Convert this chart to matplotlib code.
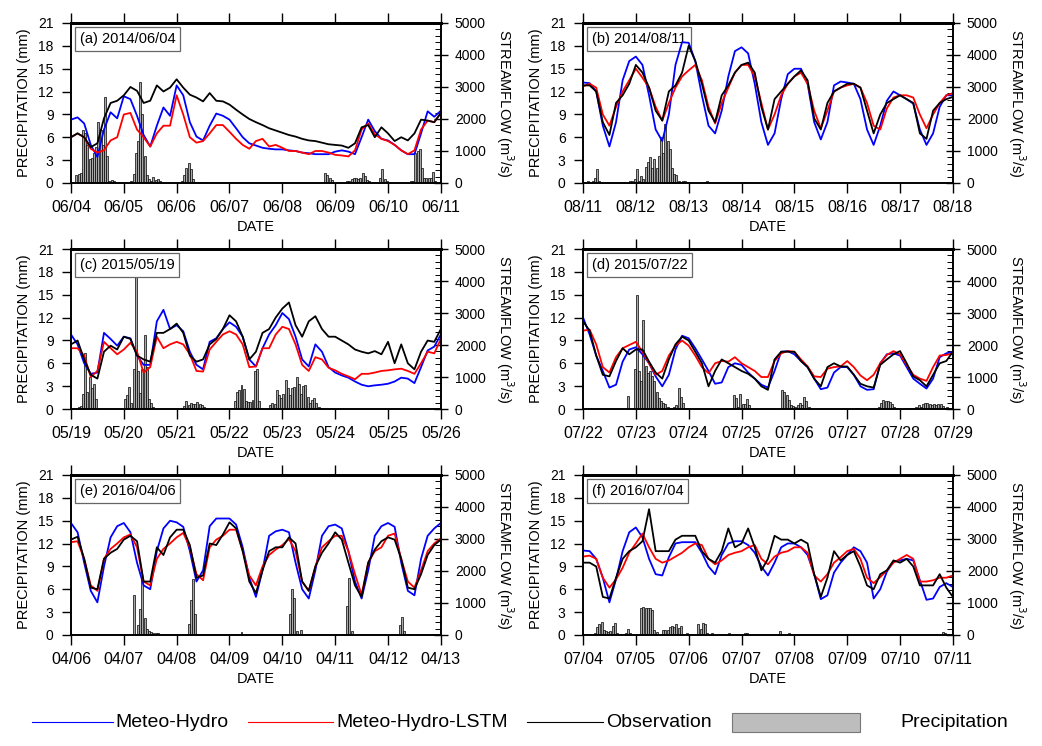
import numpy as np
import pandas as pd
import matplotlib
matplotlib.use("Agg")
import matplotlib.pyplot as plt
from matplotlib.ticker import MultipleLocator
from matplotlib.lines import Line2D
from matplotlib.patches import Rectangle

plt.rcParams['font.family'] = ['Liberation Sans', 'DejaVu Sans']

# streamflow read every 3 hours (hours since start of each event)
hours = np.arange(0, 169, 3)

# (a) 2014/06/04
a_hydro = [1980, 2050, 1860, 1190, 810, 1670, 2210, 2020, 2710, 2620,
           2100, 1500, 1140, 1790, 2360, 2100, 3050, 2740, 1900, 1450,
           1330, 1790, 2170, 2100, 1980, 1710, 1430, 1240, 1170, 1100,
           1070, 1050, 1050, 1020, 1000, 950, 930, 900, 900, 900,
           980, 1020, 980, 900, 1430, 1980, 1620, 1380, 1330, 1190,
           1020, 900, 900, 1550, 2240, 2070, 2260]
a_lstm = [1430, 1550, 1430, 1070, 950, 1020, 1330, 1430, 2140, 2190,
          1670, 1430, 1140, 1550, 1790, 1790, 2740, 2140, 1430, 1260,
          1310, 1550, 1810, 1810, 1600, 1380, 1190, 1070, 1310, 1380,
          1140, 1190, 1100, 1000, 1000, 950, 900, 1000, 1000, 950,
          880, 860, 830, 1020, 1670, 1860, 1520, 1380, 1310, 1190,
          1020, 900, 1020, 1670, 1950, 1900, 2190]
a_obs = [1430, 1550, 1430, 1120, 1240, 2020, 2500, 2570, 2740, 3000,
         2880, 2500, 2570, 3050, 2860, 2980, 3240, 2980, 2760, 2670,
         2550, 2810, 2570, 2550, 2450, 2290, 2140, 2000, 1900, 1810,
         1710, 1640, 1570, 1500, 1450, 1380, 1330, 1310, 1260, 1210,
         1190, 1170, 1100, 1240, 1740, 1810, 1430, 1740, 1550, 1310,
         1430, 1330, 1550, 1980, 1950, 1900, 2190]
a_rain_h = [2, 3, 4, 5, 6, 7, 8, 9, 10, 11, 12, 13, 14, 15, 16, 17, 18, 19,
            27, 28, 29, 30, 31, 32, 33, 34, 35, 36, 37, 38, 39, 40,
            50, 51, 52, 53, 54, 55, 56, 58, 60,
            115, 116, 117, 118,
            125, 126, 127, 128, 129, 130, 131, 132, 133, 134, 135, 136,
            140, 141, 142, 143,
            154, 155, 156, 157, 158, 159, 160, 161, 162, 163, 164, 165]
a_rain = [1.0, 1.2, 1.3, 7.0, 6.5, 5.0, 3.2, 3.3, 4.0, 4.7, 8.0, 7.0, 5.0, 11.3, 3.6, 0.3, 0.4, 0.3,
          0.2, 1.2, 4.0, 5.5, 13.2, 9.1, 3.5, 1.0, 0.5, 0.3, 0.8, 0.4, 0.5, 0.3,
          0.3, 1.0, 2.0, 2.6, 1.9, 0.5, 0.1, 0.1, 0.1,
          1.3, 1.0, 0.7, 0.4,
          0.3, 0.3, 0.5, 0.6, 0.7, 0.5, 0.6, 1.3, 0.9, 0.4, 0.2, 0.1,
          0.7, 1.9, 0.5, 0.2,
          0.2, 0.3, 4.0, 4.2, 4.4, 2.0, 0.7, 0.7, 0.7, 0.6, 1.4, 0.2]

# (b) 2014/08/11
b_hydro = [3140, 3120, 2860, 1790, 1140, 1900, 3210, 3810, 3950, 3690,
           2740, 1670, 1310, 2140, 3690, 4400, 4380, 3810, 2740, 1790,
           1550, 2260, 3330, 4120, 4240, 4050, 3100, 1900, 1190, 1550,
           2620, 3400, 3570, 3570, 3100, 1900, 1360, 1900, 3050, 3170,
           3140, 3100, 2620, 1670, 1190, 1790, 2570, 2860, 2740, 2620,
           2480, 1670, 1190, 1550, 2380, 2740, 2740]
b_lstm = [3020, 3100, 2980, 2140, 1790, 2380, 2860, 3210, 3570, 3290,
          2980, 2380, 1950, 2500, 2980, 3330, 3520, 3690, 3210, 2380,
          1860, 2500, 2980, 3450, 3690, 3690, 3330, 2500, 1670, 2140,
          2740, 3100, 3330, 3450, 3100, 2260, 1710, 2260, 2860, 2980,
          3050, 3100, 2980, 2500, 1790, 1670, 2330, 2670, 2740, 2740,
          2670, 2140, 1710, 2140, 2500, 2740, 2810]
b_obs = [3050, 3050, 2860, 1900, 1500, 2500, 2740, 3100, 3690, 3450,
         2980, 2260, 1950, 2860, 3050, 3450, 4290, 3810, 3100, 2260,
         1900, 2740, 3050, 3450, 3690, 3760, 3450, 2380, 1670, 2620,
         2860, 3100, 3330, 3520, 3210, 2020, 1670, 2500, 2860, 2980,
         3100, 3100, 2980, 2260, 1550, 2140, 2500, 2620, 2740, 2620,
         2500, 1550, 1380, 2260, 2500, 2620, 2690]
b_rain_h = [2, 4, 5, 6, 7,
            21, 22, 23, 24, 25, 26, 27, 28, 29, 30, 31, 32, 33, 34, 35, 36,
            37, 38, 39, 40, 41, 42, 43, 44, 45, 46, 47,
            55, 56, 57, 73, 74, 86, 90, 94, 117]
b_rain = [0.2, 0.3, 0.6, 1.9, 0.2,
          0.2, 0.3, 0.5, 1.8, 0.2, 0.9, 0.5, 2.1, 2.8, 3.4, 2.0, 3.2, 2.0, 3.5, 6.0, 4.0,
          7.8, 5.5, 4.5, 2.0, 1.2, 1.1, 0.2, 0.1, 0.2, 0.2, 0.1,
          0.1, 0.2, 0.1, 0.1, 0.1, 0.1, 0.1, 0.1, 0.1]

# (c) 2015/05/19
c_hydro = [2330, 2020, 1430, 1100, 1140, 2380, 2190, 1980, 2260, 2210,
           1670, 1380, 1380, 2740, 3100, 2500, 2620, 2430, 1790, 1380,
           1240, 2100, 2210, 2500, 2710, 2570, 2260, 1550, 1330, 1900,
           2330, 2620, 3000, 2810, 2260, 1550, 1330, 2020, 1790, 1310,
           1140, 1050, 980, 860, 760, 710, 740, 760, 790, 860,
           980, 950, 810, 1310, 1830, 1950, 2330]
c_lstm = [1900, 1900, 1670, 1000, 1190, 2100, 1900, 1710, 1860, 2070,
          1790, 1140, 1310, 2260, 1900, 2020, 2100, 2020, 1710, 1190,
          1170, 1860, 2100, 2330, 2430, 2330, 2020, 1310, 1330, 1900,
          1900, 2330, 2570, 2500, 2020, 1380, 1190, 1620, 1550, 1290,
          1210, 1100, 1020, 930, 1100, 1100, 1140, 1190, 1210, 1240,
          1260, 1190, 1100, 1430, 1790, 1740, 2190]
c_obs = [2020, 2140, 1550, 1070, 950, 1790, 1980, 1860, 2260, 2190,
         1670, 1550, 1480, 2380, 2380, 2500, 2670, 2380, 1670, 1480,
         1550, 2020, 2190, 2500, 2930, 2740, 2260, 1550, 1790, 2380,
         2500, 2860, 3140, 3330, 2620, 2260, 2740, 2900, 2500, 2260,
         2260, 2140, 2020, 1860, 1790, 1740, 1810, 1710, 2100, 1430,
         2020, 1430, 1240, 1790, 2140, 2100, 2500]
c_rain_h = [3, 4, 5, 6, 7, 8, 9, 10, 11,
            24, 25, 26, 27, 28, 29, 30, 31, 32, 33, 34, 35, 36, 37,
            50, 51, 52, 53, 54, 55, 56, 57, 58, 59, 60, 61,
            74, 75, 76, 77, 78, 79, 80, 81, 82, 83, 84, 85,
            90, 91, 92, 93, 94, 95, 96, 97, 98, 99, 100, 101, 102, 103,
            104, 105, 106, 107, 108, 109, 110, 111, 112, 113]
c_rain = [0.3, 0.4, 2.0, 7.3, 2.3, 4.2, 2.8, 3.3, 1.3,
          1.3, 1.8, 2.9, 0.8, 5.3, 17.3, 5.0, 2.1, 5.3, 9.7, 5.5, 1.3, 0.8, 0.3,
          0.2, 0.4, 1.0, 0.5, 0.8, 0.7, 0.6, 0.9, 0.7, 0.5, 0.3, 0.2,
          1.0, 2.2, 2.5, 3.1, 2.6, 1.0, 0.9, 0.9, 1.2, 5.0, 5.2, 1.0,
          0.5, 0.8, 0.7, 2.5, 1.8, 1.5, 2.0, 3.8, 2.8, 1.8, 2.8, 2.9, 4.2, 3.3,
          2.0, 3.0, 3.2, 1.6, 0.8, 1.2, 1.4, 0.8, 0.3, 0.1]

# (d) 2015/07/22
d_hydro = [2860, 2330, 1670, 1190, 670, 760, 1480, 1860, 1930, 1710,
           1430, 1020, 710, 1070, 1860, 2290, 2210, 1900, 1550, 1190,
           790, 830, 1310, 1430, 1380, 1140, 950, 760, 670, 1190,
           1790, 1810, 1710, 1500, 1310, 950, 620, 670, 1140, 1310,
           1310, 1070, 710, 600, 620, 1430, 1710, 1740, 1670, 1310,
           950, 790, 640, 950, 1620, 1740, 1790]
d_lstm = [2450, 2480, 2020, 1310, 1140, 1620, 1900, 2000, 2100, 1790,
          1430, 1070, 1190, 1670, 1980, 2140, 1980, 1670, 1310, 1120,
          1430, 1500, 1480, 1620, 1430, 1310, 1190, 1000, 1000, 1500,
          1740, 1810, 1790, 1550, 1330, 1020, 1000, 1260, 1310, 1330,
          1500, 1310, 1050, 900, 1070, 1430, 1690, 1810, 1710, 1380,
          1070, 950, 880, 1310, 1670, 1690, 1740]
d_obs = [2740, 2450, 1670, 1070, 1020, 1500, 1900, 1710, 1860, 1860,
         1480, 1140, 950, 1550, 2020, 2260, 2140, 1790, 1430, 710,
         1190, 1550, 1430, 1310, 1190, 1100, 950, 710, 600, 1550,
         1790, 1790, 1790, 1500, 1310, 950, 710, 1310, 1430, 1330,
         1330, 1070, 790, 710, 670, 1380, 1550, 1710, 1810, 1430,
         1020, 900, 710, 1070, 1430, 1500, 1790]
d_rain_h = [20,
            23, 24, 25, 26, 27, 28, 29, 30, 31, 32, 33, 34, 35, 36, 37, 38, 39,
            41, 42, 43, 44, 45, 46,
            68, 69, 70, 71, 72, 73, 74, 75,
            90, 91, 92, 93, 94, 95, 96, 97, 98, 99, 100, 101, 102,
            124, 125,
            134, 135, 136, 137, 138, 139, 140, 141, 142,
            147, 149, 150, 151, 152, 153, 154, 155, 156, 157, 158, 159, 160,
            161, 162, 163, 164, 165]
d_rain = [1.7,
          5.3, 15.0, 5.0, 3.7, 11.7, 5.6, 4.7, 5.0, 4.4, 3.7, 2.2, 1.5, 1.0, 0.8, 0.7, 0.3, 0.1,
          0.3, 0.5, 2.7, 1.6, 0.8, 0.2,
          1.9, 1.4, 0.3, 2.0, 0.6, 0.7, 1.3, 0.5,
          2.5, 2.3, 1.8, 1.2, 0.5, 0.4, 0.3, 0.5, 0.8, 0.5, 1.6, 1.0, 0.3,
          0.2, 0.1,
          0.3, 0.8, 1.2, 1.1, 1.0, 0.9, 0.7, 0.3, 0.2,
          0.1, 0.2, 0.2, 0.3, 0.5, 0.3, 0.7, 0.8, 0.8, 0.6, 0.5, 0.6, 0.5,
          0.7, 0.6, 0.4, 0.2, 0.3]

# (e) 2016/04/06
e_hydro = [3500, 3210, 2260, 1380, 1020, 2140, 3050, 3400, 3500, 3210,
           2260, 1550, 1430, 2620, 3330, 3570, 3520, 3380, 2620, 1670,
           2020, 3400, 3640, 3640, 3640, 3450, 2740, 1790, 1190, 2020,
           3100, 3240, 3290, 3210, 2260, 1430, 1140, 2020, 3100, 3400,
           3450, 3330, 2620, 1670, 1140, 2020, 3100, 3400, 3500, 3380,
           2260, 1380, 1240, 2380, 3100, 3330, 3500]
e_lstm = [2900, 2930, 2380, 1550, 1380, 2380, 2690, 2860, 3050, 3140,
          2740, 1670, 1550, 2380, 2690, 2860, 3050, 3190, 2740, 1900,
          1710, 2740, 2980, 3100, 3290, 3290, 2620, 1860, 1550, 2140,
          2500, 2670, 2810, 3000, 2620, 1670, 1380, 2140, 2740, 2930,
          3100, 3100, 2620, 1900, 1260, 2260, 2620, 2740, 3100, 3170,
          2380, 1670, 1480, 2020, 2620, 2860, 3020]
e_obs = [2980, 3070, 2380, 1480, 1430, 2380, 2570, 2690, 2980, 3100,
         2930, 1670, 1670, 2740, 2500, 3050, 3290, 3290, 2810, 1790,
         1860, 2860, 2810, 3140, 3520, 3330, 2620, 1670, 1310, 2020,
         2620, 2740, 2740, 3050, 2860, 1670, 1380, 2140, 2570, 2860,
         3210, 2980, 2260, 1550, 1190, 2260, 2670, 2930, 3050, 2980,
         2380, 1480, 1430, 1900, 2500, 2810, 2980]
e_rain_h = [28, 30, 31, 32, 33, 34, 35, 36, 37, 38, 39,
            53, 54, 55, 56,
            77,
            99, 100, 101, 102, 104,
            125, 126, 127,
            149, 150, 151, 153]
e_rain = [5.3, 1.3, 3.4, 7.5, 2.2, 0.8, 0.5, 0.4, 0.3, 0.3, 0.2,
          1.4, 4.6, 7.4, 2.7,
          0.4,
          2.8, 6.0, 4.8, 0.5, 0.7,
          3.8, 7.5, 0.5,
          1.3, 2.4, 0.5, 0.1]

# (f) 2016/07/04
f_hydro = [2640, 2620, 2380, 1790, 1020, 1740, 2620, 3210, 3360, 3050,
           2380, 1900, 1860, 2430, 2860, 2900, 2900, 2900, 2570, 2140,
           1900, 2500, 2860, 2930, 2930, 2810, 2570, 2140, 1860, 2260,
           2740, 2860, 2860, 2740, 2500, 1900, 1120, 1240, 1950, 2260,
           2500, 2740, 2620, 2260, 1140, 1430, 1980, 2290, 2330, 2380,
           2330, 1710, 1100, 1140, 1500, 1620, 1500]
f_lstm = [2450, 2480, 2380, 1790, 1480, 1740, 2100, 2570, 2860, 3170,
          2740, 2380, 2260, 2330, 2450, 2570, 2740, 2860, 2810, 2380,
          2210, 2330, 2500, 2570, 2620, 2740, 2810, 2380, 2210, 2450,
          2570, 2620, 2740, 2740, 2570, 1860, 1670, 1900, 2260, 2430,
          2620, 2690, 2380, 1790, 1620, 1810, 2020, 2260, 2380, 2500,
          2380, 1670, 1670, 1710, 1790, 1790, 1860]
f_obs = [2260, 2260, 2140, 1190, 1140, 1790, 2380, 2620, 2740, 2930,
         3930, 2620, 2620, 2620, 2980, 3100, 3100, 3100, 2620, 2380,
         2260, 2620, 3330, 2740, 2860, 3330, 2740, 2020, 2380, 3100,
         2980, 2980, 2860, 2980, 2860, 1900, 1190, 1790, 2620, 2330,
         2500, 2620, 2140, 1550, 1430, 1900, 2020, 2330, 2260, 2380,
         2140, 1550, 1550, 1550, 1900, 1480, 1190]
f_rain_h = [5, 6, 7, 8, 9, 10, 11, 12, 13, 14, 15, 17, 19, 20, 21,
            26, 27, 28, 29, 30, 31, 32, 33,
            36, 37, 38, 39, 40, 41, 42, 43, 44, 45,
            47, 48, 49,
            52, 53, 54, 55, 56, 58,
            66, 73, 74, 77, 89, 93,
            163, 164]
f_rain = [0.3, 1.0, 1.4, 1.7, 0.7, 0.5, 0.4, 0.5, 1.2, 1.6, 0.3, 0.1, 0.3, 0.8, 0.2,
          3.6, 3.7, 3.6, 3.6, 3.5, 3.3, 0.7, 0.4,
          0.6, 0.6, 0.7, 1.0, 1.2, 1.0, 1.4, 0.9, 1.2, 0.1,
          0.2, 0.1, 0.1,
          1.5, 0.8, 1.6, 1.4, 0.3, 0.2,
          0.2, 0.3, 0.2, 0.1, 0.5, 0.3,
          0.4, 0.2]

titles = ['(a) 2014/06/04', '(b) 2014/08/11', '(c) 2015/05/19',
          '(d) 2015/07/22', '(e) 2016/04/06', '(f) 2016/07/04']
starts = ['2014-06-04', '2014-08-11', '2015-05-19',
          '2015-07-22', '2016-04-06', '2016-07-04']

panels = [
    (a_hydro, a_lstm, a_obs, a_rain_h, a_rain),
    (b_hydro, b_lstm, b_obs, b_rain_h, b_rain),
    (c_hydro, c_lstm, c_obs, c_rain_h, c_rain),
    (d_hydro, d_lstm, d_obs, d_rain_h, d_rain),
    (e_hydro, e_lstm, e_obs, e_rain_h, e_rain),
    (f_hydro, f_lstm, f_obs, f_rain_h, f_rain),
]

fig = plt.figure(figsize=(10.42, 7.46), dpi=100)

lefts = [0.0681, 0.5595]
bottoms = [0.7547, 0.4517, 0.1488]

for i, (hydro, lstm, obs, rain_h, rain) in enumerate(panels):
    ax = fig.add_axes([lefts[i % 2], bottoms[i // 2], 0.355, 0.2145])

    # precipitation bars on the left axis
    ax.bar(rain_h, rain, width=0.9, align='edge', color='#a8a8a8',
           edgecolor='black', linewidth=0.5)
    ax.set_xlim(0, 168)
    ax.set_ylim(0, 21)
    ax.set_yticks(range(0, 22, 3))
    ax.set_xticks(range(0, 169, 24))
    ax.set_xticklabels(pd.date_range(starts[i], periods=8, freq='D').strftime('%m/%d'))
    ax.tick_params(axis='x', direction='out', length=7, width=1, top=True,
                   labelsize=11.5, pad=5)
    ax.tick_params(axis='y', direction='out', length=6.5, width=1,
                   labelsize=10, pad=6)
    ax.set_xlabel('DATE', fontsize=10.5, labelpad=4)
    ax.set_ylabel('PRECIPITATION (mm)', fontsize=10.5, labelpad=5)
    for s in ax.spines.values():
        s.set_linewidth(1.2)
    ax.spines['top'].set_linewidth(2)

    ax.text(0.024, 0.9, titles[i], transform=ax.transAxes, fontsize=10.5,
            ha='left', va='center',
            bbox=dict(boxstyle='square,pad=0.33', fc='white', ec='#666666', lw=0.9))

    # streamflow lines on the right axis
    ax2 = ax.twinx()
    ax2.plot(hours, hydro, color='#0000ff', lw=1.3)
    ax2.plot(hours, lstm, color='#ff0000', lw=1.3)
    ax2.plot(hours, obs, color='black', lw=1.3)
    ax2.set_ylim(0, 5000)
    ax2.set_yticks(range(0, 5001, 1000))
    ax2.yaxis.set_minor_locator(MultipleLocator(200))
    ax2.tick_params(axis='y', which='major', direction='inout', length=10,
                    width=1, labelsize=10, pad=5)
    ax2.tick_params(axis='y', which='minor', direction='in', length=4, width=0.7)
    ax2.set_ylabel('STREAMFLOW (m$^3$/s)', fontsize=10.5, rotation=270,
                   va='bottom', labelpad=6)
    for s in ax2.spines.values():
        s.set_linewidth(1.2)
    ax2.spines['top'].set_linewidth(2)

# legend along the bottom
ly = 0.032
fig.add_artist(Line2D([0.031, 0.108], [ly, ly], color='#0000ff', lw=0.8))
fig.text(0.111, ly, 'Meteo-Hydro', fontsize=14, va='center')
fig.add_artist(Line2D([0.238, 0.320], [ly, ly], color='#ff0000', lw=0.8))
fig.text(0.323, ly, 'Meteo-Hydro-LSTM', fontsize=14, va='center')
fig.add_artist(Line2D([0.506, 0.579], [ly, ly], color='black', lw=0.8))
fig.text(0.582, ly, 'Observation', fontsize=14, va='center')
fig.add_artist(Rectangle((0.7025, 0.0188), 0.123, 0.0255, facecolor='#bdbdbd',
                         edgecolor='#777777', lw=0.8))
fig.text(0.8637, ly, 'Precipitation', fontsize=14, va='center')

fig.savefig('out.png', dpi=100)
